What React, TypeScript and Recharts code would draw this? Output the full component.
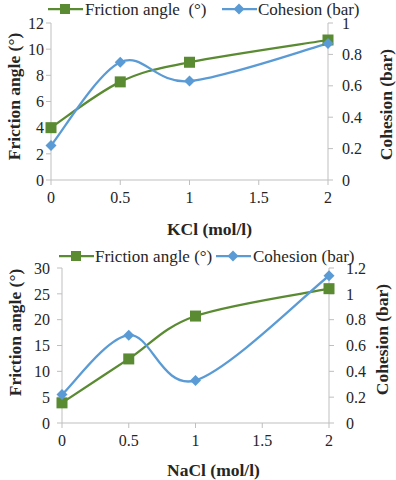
import React from 'react';
import { LineChart, Line, XAxis, YAxis, Legend } from 'recharts';

// concentrations (mol/l) and x-axis ticks
const concentrations = [0, 0.5, 1, 2];
const xTicks = [0, 0.5, 1, 1.5, 2];

// KCl panel
const kclFriction = [4.0, 7.5, 9.0, 10.7];
const kclCohesion = [0.22, 0.75, 0.63, 0.87];
const kclFrictionTicks = [0, 2, 4, 6, 8, 10, 12];
const kclCohesionTicks = [0, 0.2, 0.4, 0.6, 0.8, 1];

// NaCl panel
const naclFriction = [3.9, 12.4, 20.7, 26.0];
const naclCohesion = [0.22, 0.68, 0.33, 1.14];
const naclFrictionTicks = [0, 5, 10, 15, 20, 25, 30];
const naclCohesionTicks = [0, 0.2, 0.4, 0.6, 0.8, 1, 1.2];

const GREEN = '#5a8b33';
const BLUE = '#5b9bd5';
const AXIS = '#bfbfbf';
const TEXT = '#262626';
const FONT = "'Liberation Serif', 'Times New Roman', serif";

// Excel-like smoothed line (Catmull-Rom style bezier)
const excelSmooth = (context: any) => {
  let pts: number[][] = [];
  return {
    areaStart() {},
    areaEnd() {},
    lineStart() {
      pts = [];
    },
    point(x: number, y: number) {
      pts.push([+x, +y]);
    },
    lineEnd() {
      if (!pts.length) return;
      context.moveTo(pts[0][0], pts[0][1]);
      for (let i = 0; i < pts.length - 1; i++) {
        const p0 = pts[i - 1] || pts[i];
        const p1 = pts[i];
        const p2 = pts[i + 1];
        const p3 = pts[i + 2] || p2;
        context.bezierCurveTo(
          p1[0] + (p2[0] - p0[0]) / 6,
          p1[1] + (p2[1] - p0[1]) / 6,
          p2[0] - (p3[0] - p1[0]) / 6,
          p2[1] - (p3[1] - p1[1]) / 6,
          p2[0],
          p2[1]
        );
      }
    },
  };
};

const SquareDot = (props: any) => {
  const { cx, cy, index } = props;
  if (cx == null || cy == null) return <g key={index} />;
  return <rect key={index} x={cx - 5.5} y={cy - 5.5} width={11} height={11} fill={GREEN} />;
};

const DiamondDot = (props: any) => {
  const { cx, cy, index } = props;
  if (cx == null || cy == null) return <g key={index} />;
  const r = 5.5;
  return <path key={index} d={`M${cx},${cy - r}L${cx + r},${cy}L${cx},${cy + r}L${cx - r},${cy}Z`} fill={BLUE} />;
};

interface LegendItem {
  label: string;
  color: string;
  shape: string;
  x: number;
  textX: number;
}

const LegendBox = ({ items, cy }: { items: LegendItem[]; cy: number }) => (
  <svg width={396} height={cy + 10} style={{ display: 'block', overflow: 'visible' }}>
    {items.map((it) => {
      const mx = it.x + 17;
      return (
        <g key={it.label}>
          <line x1={it.x} y1={cy} x2={it.x + 35} y2={cy} stroke={it.color} strokeWidth={2.25} />
          {it.shape === 'square' ? (
            <rect x={mx - 5} y={cy - 5} width={10} height={10} fill={it.color} />
          ) : (
            <path d={`M${mx},${cy - 5.5}L${mx + 5.5},${cy}L${mx},${cy + 5.5}L${mx - 5.5},${cy}Z`} fill={it.color} />
          )}
          <text
            x={it.textX}
            y={cy}
            dominantBaseline="central"
            style={{ fontFamily: FONT, whiteSpace: 'pre' }}
            fontSize={17}
            fill={TEXT}
          >
            {it.label}
          </text>
        </g>
      );
    })}
  </svg>
);

interface PanelProps {
  friction: number[];
  cohesion: number[];
  frictionTicks: number[];
  cohesionTicks: number[];
  xTitle: string;
  frictionLabel: string;
  leftW: number;
  rightW: number;
  top: number;
  xAxisH: number;
  legendX: number[];
  legendY: number;
  leftTitleX: number;
  leftTitleDy: number;
  rightTitleInset: number;
  rightTitleDy: number;
  xTitleDx: number;
  xTitleDy: number;
  rightTickMargin: number;
  leftTickMargin: number;
}

function Panel(p: PanelProps) {
  const data = concentrations.map((c, i) => ({ c, friction: p.friction[i], cohesion: p.cohesion[i] }));
  const tick = { fontSize: 16, fill: TEXT, style: { fontFamily: FONT } };
  const fMax = p.frictionTicks[p.frictionTicks.length - 1];
  const cMax = p.cohesionTicks[p.cohesionTicks.length - 1];
  const titleStyle = { fontFamily: FONT, fontWeight: 'bold' as const, whiteSpace: 'pre' as const };

  return (
    <LineChart
      width={396}
      height={240}
      data={data}
      margin={{ top: p.top, right: 0, bottom: 0, left: 0 }}
      style={{ fontFamily: FONT }}
    >
      <XAxis
        dataKey="c"
        type="number"
        domain={[0, 2]}
        ticks={xTicks}
        height={p.xAxisH}
        tick={tick}
        tickSize={5}
        tickMargin={7}
        stroke={AXIS}
        label={{
          content: ({ viewBox }: any) => (
            <text
              x={viewBox.x + viewBox.width / 2 + p.xTitleDx}
              y={viewBox.y + p.xTitleDy}
              textAnchor="middle"
              dominantBaseline="central"
              style={titleStyle}
              fontSize={17.5}
              fill={TEXT}
            >
              {p.xTitle}
            </text>
          ),
        }}
      />
      <YAxis
        yAxisId="left"
        domain={[0, fMax]}
        ticks={p.frictionTicks}
        width={p.leftW}
        tick={tick}
        tickSize={5}
        tickMargin={p.leftTickMargin}
        stroke={AXIS}
        interval={0}
        label={{
          content: ({ viewBox }: any) => {
            const x = viewBox.x + p.leftTitleX;
            const y = viewBox.y + viewBox.height / 2 + p.leftTitleDy;
            return (
              <text
                x={x}
                y={y}
                transform={`rotate(-90, ${x}, ${y})`}
                textAnchor="middle"
                dominantBaseline="central"
                style={titleStyle}
                fontSize={17.5}
                fill={TEXT}
              >
                {p.frictionLabel.replace('  ', ' ')}
              </text>
            );
          },
        }}
      />
      <YAxis
        yAxisId="right"
        orientation="right"
        domain={[0, cMax]}
        ticks={p.cohesionTicks}
        width={p.rightW}
        tick={tick}
        tickSize={5}
        tickMargin={p.rightTickMargin}
        stroke={AXIS}
        interval={0}
        label={{
          content: ({ viewBox }: any) => {
            const x = viewBox.x + viewBox.width - p.rightTitleInset;
            const y = viewBox.y + viewBox.height / 2 + p.rightTitleDy;
            return (
              <text
                x={x}
                y={y}
                transform={`rotate(-90, ${x}, ${y})`}
                textAnchor="middle"
                dominantBaseline="central"
                style={titleStyle}
                fontSize={17.5}
                fill={TEXT}
              >
                Cohesion (bar)
              </text>
            );
          },
        }}
      />
      <Legend
        layout="horizontal"
        verticalAlign="middle"
        align="center"
        wrapperStyle={{ top: 0, left: 0, width: 396 }}
        content={() => (
          <LegendBox
            cy={p.legendY}
            items={[
              { label: p.frictionLabel, color: GREEN, shape: 'square', x: p.legendX[0], textX: p.legendX[1] },
              { label: 'Cohesion (bar)', color: BLUE, shape: 'diamond', x: p.legendX[2], textX: p.legendX[3] },
            ]}
          />
        )}
      />
      <Line
        yAxisId="left"
        dataKey="friction"
        name={p.frictionLabel}
        type={excelSmooth as any}
        stroke={GREEN}
        strokeWidth={2.25}
        dot={SquareDot}
        activeDot={false}
        isAnimationActive={false}
      />
      <Line
        yAxisId="right"
        dataKey="cohesion"
        name="Cohesion (bar)"
        type={excelSmooth as any}
        stroke={BLUE}
        strokeWidth={2.25}
        dot={DiamondDot}
        activeDot={false}
        isAnimationActive={false}
      />
    </LineChart>
  );
}

export default function App() {
  return (
    <div
      style={{
        position: 'absolute',
        left: 0,
        top: 0,
        width: 396,
        height: 480,
        background: '#fff',
        fontFamily: FONT,
      }}
    >
      <Panel
        friction={kclFriction}
        cohesion={kclCohesion}
        frictionTicks={kclFrictionTicks}
        cohesionTicks={kclCohesionTicks}
        xTitle="KCl (mol/l)"
        frictionLabel="Friction angle  (°)"
        leftW={51}
        rightW={68}
        top={23}
        xAxisH={60}
        legendX={[48, 85, 222, 258]}
        legendY={9}
        leftTitleX={14}
        leftTitleDy={-5}
        rightTitleInset={10}
        rightTitleDy={3}
        xTitleDx={20}
        xTitleDy={49}
        leftTickMargin={2}
        rightTickMargin={9}
      />
      <Panel
        friction={naclFriction}
        cohesion={naclCohesion}
        frictionTicks={naclFrictionTicks}
        cohesionTicks={naclCohesionTicks}
        xTitle="NaCl (mol/l)"
        frictionLabel="Friction angle (°)"
        leftW={62}
        rightW={67}
        top={28}
        xAxisH={57}
        legendX={[59, 95, 216, 253]}
        legendY={16}
        leftTitleX={15}
        leftTitleDy={-13}
        rightTitleInset={14}
        rightTitleDy={-6}
        xTitleDx={18}
        xTitleDy={47}
        leftTickMargin={7}
        rightTickMargin={12}
      />
    </div>
  );
}
